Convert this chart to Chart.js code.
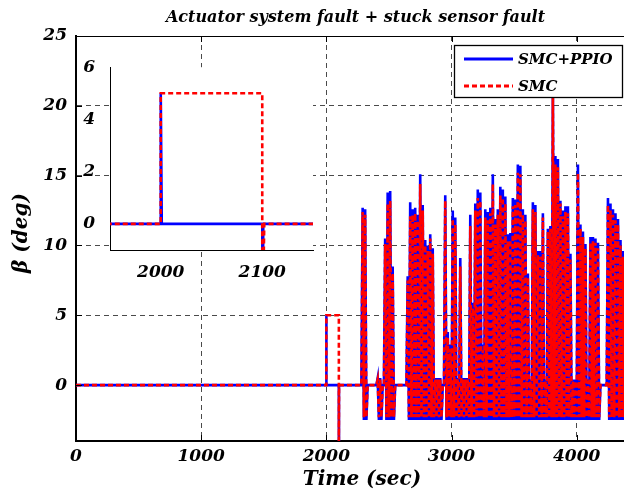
<!DOCTYPE html>
<html>
<head>
<meta charset="utf-8">
<script src="https://cdn.jsdelivr.net/npm/chart.js@4.4.1/dist/chart.umd.min.js"></script>
<style>
  html, body { margin: 0; padding: 0; background: #fff; overflow: hidden; }
  #wrap { position: relative; width: 624px; height: 495px; overflow: hidden; background: #fff; }
  #mainChart { position: absolute; left: 0; top: 0; }
  #insetChart { position: absolute; left: 60px; top: 50px; }
</style>
</head>
<body>
<div id="wrap">
  <canvas id="mainChart" width="645" height="495"></canvas>
  <canvas id="insetChart" width="270" height="230"></canvas>
</div>
<script>
// fault pulse: actuator fault at t = 2000 s, stuck sensor at t = 2100 s
const faultTimeSMC = [0, 2000, 2000, 2100, 2100, 2102, 2260];
const faultSMC = [0, 0, 5, 5, -4.5, 0, 0];
const faultTimePPIO = [0, 2000, 2000, 2001, 2100, 2100.5, 2101, 2260];
const faultPPIO = [0, 0, 5, 0, 0, -4.5, 0, 0];

// oscillating part, one sample every 10 s starting at 2270 s
const burstStart = 2270;
const burstStep = 10;
const smcBurst = [
  0, 0, 12.4, -2.3, 12.2, -2.3, 0, 0, 0, 0, 0, 0, 0, 0, 0.4, -2.3, 0.4, -2.3, 0, 0,
  10.1, -2.3, 13.0, -2.3, 13.2, -2.3, 8.0, -2.3, 0, 0, 0, 0, 0, 0, 0, 0, 0, 0, 7.5, -2.3,
  12.1, -2.3, 12.2, -2.3, 12.3, -2.3, 11.8, -2.3, 14.4, -2.3, 12.5, -2.3, 10.0, -2.3, 9.6, -2.3, 10.5, -2.3, 9.4, -2.3,
  0.4, -2.3, 0.4, -2.3, 0.4, -2.3, 0, 0, 13.2, -2.3, 3.4, -2.3, 2.6, -2.3, 11.9, -2.3, 11.5, -2.3, 0.4, -2.3,
  8.5, -2.3, 0.4, -2.3, 0.4, -2.3, 0.4, -2.3, 11.4, -2.3, 5.5, -2.3, 12.5, -2.3, 13.4, -2.3, 13.2, -2.3, 2.5, -2.3,
  12.0, -2.3, 11.8, -2.3, 12.3, -2.3, 14.4, -2.3, 11.5, -2.3, 12.2, -2.3, 13.6, -2.3, 13.4, -2.3, 13.0, -2.3, 10.3, -2.3,
  10.4, -2.3, 12.8, -2.3, 12.9, -2.3, 15.2, -2.3, 15.1, -2.3, 12.2, -2.3, 11.8, -2.3, 7.7, -2.3, 0.3, -2.3, 12.6, -2.3,
  12.4, -2.3, 9.3, -2.3, 9.2, -2.3, 12.0, -2.3, 0.3, -2.3, 11.0, -2.3, 11.2, -2.3, 20.6, -2.3, 15.8, -2.3, 15.6, -2.3,
  13.0, -2.3, 12.1, -2.3, 12.4, -2.3, 12.3, -2.3, 9.0, -2.3, 0.3, -2.3, 0.3, -2.3, 15.2, -2.3, 11.2, -2.3, 10.6, -2.3,
  9.8, -2.3, 0.3, -2.3, 10.2, -2.3, 10.3, -2.3, 10.2, -2.3, 9.8, -2.3, 0, 0, 0, 0, 0, 0, 12.9, -2.3,
  12.5, -2.3, 12.2, -2.3, 11.8, -2.3, 11.5, -2.3, 10.0, -2.3, 9.2, -2.3, 8.5, -2.3, 10.0, -2.3, 9.0, -2.3
];
const ppioBurst = [
  0, 0, 12.7, -2.5, 12.6, -2.5, 0, 0, 0, 0, 0, 0, 0, 0, 0.5, -2.5, 0.5, -2.5, 0, 0,
  10.5, -2.5, 13.8, -2.5, 13.9, -2.5, 8.5, -2.5, 0, 0, 0, 0, 0, 0, 0, 0, 0, 0, 7.8, -2.5,
  13.1, -2.5, 12.6, -2.5, 12.7, -2.5, 12.2, -2.5, 15.1, -2.5, 12.9, -2.5, 10.4, -2.5, 10.0, -2.5, 10.8, -2.5, 9.8, -2.5,
  0.5, -2.5, 0.5, -2.5, 0.5, -2.5, 0, 0, 13.6, -2.5, 3.8, -2.5, 2.9, -2.5, 12.5, -2.5, 12.0, -2.5, 0.5, -2.5,
  9.1, -2.5, 0.5, -2.5, 0.5, -2.5, 0.5, -2.5, 12.2, -2.5, 5.9, -2.5, 13.0, -2.5, 14.0, -2.5, 13.8, -2.5, 2.9, -2.5,
  12.6, -2.5, 12.4, -2.5, 12.7, -2.5, 15.1, -2.5, 11.9, -2.5, 12.6, -2.5, 14.2, -2.5, 14.0, -2.5, 13.5, -2.5, 10.8, -2.5,
  10.9, -2.5, 13.4, -2.5, 13.3, -2.5, 15.8, -2.5, 15.7, -2.5, 12.6, -2.5, 12.2, -2.5, 8.0, -2.5, 0.4, -2.5, 13.1, -2.5,
  12.9, -2.5, 9.6, -2.5, 9.6, -2.5, 12.3, -2.5, 0.4, -2.5, 11.2, -2.5, 11.4, -2.5, 20.8, -2.5, 16.4, -2.5, 16.2, -2.5,
  13.2, -2.5, 12.5, -2.5, 12.8, -2.5, 12.8, -2.5, 9.4, -2.5, 0.4, -2.5, 0.4, -2.5, 15.8, -2.5, 11.5, -2.5, 11.0, -2.5,
  10.1, -2.5, 0.4, -2.5, 10.6, -2.5, 10.6, -2.5, 10.5, -2.5, 10.2, -2.5, 0, 0, 0, 0, 0, 0, 13.4, -2.5,
  13.0, -2.5, 12.6, -2.5, 12.3, -2.5, 11.9, -2.5, 10.4, -2.5, 9.6, -2.5, 9.0, -2.5, 10.4, -2.5, 9.4, -2.5
];

const xTickValues = [0, 1000, 2000, 3000, 4000];
const yTickValues = [0, 5, 10, 15, 20, 25];
const insetXTicks = [2000, 2100];
const insetYTicks = [0, 2, 4, 6];

const seriesNames = ['SMC+PPIO', 'SMC'];
const titleText = 'Actuator system fault + stuck sensor fault';
const xTitle = 'Time (sec)';
const yTitle = '\u03B2 (deg)';

const FONT = '"DejaVu Serif", "Liberation Serif", serif';

function toPoints(times, values) {
  return times.map((t, i) => ({ x: t, y: values[i] }));
}
function burstPoints(values) {
  return values.map((v, i) => ({ x: burstStart + i * burstStep, y: v }));
}

const ppioData = toPoints(faultTimePPIO, faultPPIO).concat(burstPoints(ppioBurst));
const smcData = toPoints(faultTimeSMC, faultSMC).concat(burstPoints(smcBurst));

function makeDatasets(dash, width) {
  return [
    { label: seriesNames[0], data: ppioData, borderColor: '#0000ff', borderWidth: width,
      pointRadius: 0, tension: 0, fill: false, order: 2 },
    { label: seriesNames[1], data: smcData, borderColor: '#ff0000', borderWidth: width,
      borderDash: dash, pointRadius: 0, tension: 0, fill: false, order: 1 }
  ];
}

function fixedTicks(values) {
  return function (scale) {
    scale.ticks = values.map(v => ({ value: v }));
  };
}
const plainLabel = v => String(v);

const tickFont = { family: FONT, size: 17, style: 'italic', weight: 'bold' };

// white page, frame, inward ticks, titles and legend
const mainDecor = {
  id: 'mainDecor',
  beforeDraw(chart) {
    const ctx = chart.ctx;
    ctx.save();
    ctx.fillStyle = '#fff';
    ctx.fillRect(0, 0, chart.width, chart.height);
    ctx.restore();
  },
  afterDraw(chart) {
    const ctx = chart.ctx;
    const a = chart.chartArea;
    const xs = chart.scales.x, ys = chart.scales.y;
    ctx.save();
    // top edge of the box
    ctx.strokeStyle = '#000';
    ctx.lineWidth = 1.2;
    ctx.beginPath();
    ctx.moveTo(a.left, a.top + 0.5);
    ctx.lineTo(a.right, a.top + 0.5);
    ctx.stroke();
    // ticks pointing inwards
    ctx.lineWidth = 1;
    ctx.beginPath();
    yTickValues.forEach(v => {
      const y = Math.round(ys.getPixelForValue(v)) + 0.5;
      ctx.moveTo(a.left, y); ctx.lineTo(a.left + 6, y);
    });
    xTickValues.forEach(v => {
      const x = Math.round(xs.getPixelForValue(v)) + 0.5;
      ctx.moveTo(x, a.bottom); ctx.lineTo(x, a.bottom - 6);
      ctx.moveTo(x, a.top); ctx.lineTo(x, a.top + 6);
    });
    ctx.stroke();

    ctx.fillStyle = '#000';
    ctx.textBaseline = 'middle';
    ctx.textAlign = 'center';
    ctx.font = 'italic bold 16px ' + FONT;
    ctx.fillText(titleText, (a.left + a.right) / 2 + 1, 18);
    ctx.font = 'italic bold 20px ' + FONT;
    ctx.fillText(xTitle, 362, 480);
    ctx.save();
    ctx.translate(22, 233);
    ctx.rotate(-Math.PI / 2);
    ctx.fillText(yTitle, 0, 0);
    ctx.restore();

    // legend
    const box = { x: 454.5, y: 45.5, w: 168, h: 52 };
    ctx.fillStyle = '#fff';
    ctx.fillRect(box.x, box.y, box.w, box.h);
    ctx.strokeStyle = '#000';
    ctx.lineWidth = 1.3;
    ctx.strokeRect(box.x, box.y, box.w, box.h);
    const rows = [59, 86];
    chart.data.datasets.forEach((ds, i) => {
      ctx.strokeStyle = ds.borderColor;
      ctx.lineWidth = 3;
      ctx.setLineDash(ds.borderDash || []);
      ctx.beginPath();
      ctx.moveTo(464, rows[i]);
      ctx.lineTo(513, rows[i]);
      ctx.stroke();
      ctx.setLineDash([]);
      ctx.fillStyle = '#000';
      ctx.textAlign = 'left';
      ctx.font = 'italic bold 15px ' + FONT;
      ctx.fillText(ds.label, 518, rows[i] + 1);
    });
    ctx.restore();
  }
};

new Chart(document.getElementById('mainChart'), {
  type: 'line',
  data: { datasets: makeDatasets([5, 3], 2.6) },
  options: {
    responsive: false,
    animation: false,
    events: [],
    layout: { padding: { top: 36, right: 12, bottom: 0, left: 0 } },
    plugins: { legend: { display: false }, title: { display: false }, tooltip: { enabled: false } },
    scales: {
      x: {
        type: 'linear', min: 0, max: 4450,
        afterBuildTicks: fixedTicks(xTickValues),
        afterFit(s) { s.height = 54; },
        ticks: { font: tickFont, color: '#000', padding: 5, maxRotation: 0, autoSkip: false, callback: plainLabel },
        grid: { color: '#4a4a4a', lineWidth: 1, drawTicks: false },
        border: { display: true, color: '#000', width: 2, dash: [5, 4] }
      },
      y: {
        type: 'linear', min: -4, max: 25,
        afterBuildTicks: fixedTicks(yTickValues),
        afterFit(s) { s.width = 76; },
        ticks: { font: tickFont, color: '#000', padding: 9, callback: plainLabel },
        grid: { color: '#4a4a4a', lineWidth: 1, drawTicks: false },
        border: { display: true, color: '#000', width: 2, dash: [5, 4] }
      }
    }
  },
  plugins: [mainDecor]
});

// zoomed view around the fault instants
const insetBackground = {
  id: 'insetBackground',
  beforeDraw(chart) {
    const a = chart.chartArea;
    const ctx = chart.ctx;
    ctx.save();
    ctx.fillStyle = '#fff';
    ctx.fillRect(a.left, a.top, a.right - a.left, a.bottom - a.top);
    ctx.restore();
  }
};

new Chart(document.getElementById('insetChart'), {
  type: 'line',
  data: { datasets: makeDatasets([5, 3], 2.6) },
  options: {
    responsive: false,
    animation: false,
    events: [],
    layout: { padding: { top: 14, right: 17, bottom: 0, left: 0 } },
    plugins: { legend: { display: false }, title: { display: false }, tooltip: { enabled: false } },
    scales: {
      x: {
        type: 'linear', min: 1950, max: 2150,
        afterBuildTicks: fixedTicks(insetXTicks),
        afterFit(s) { s.height = 30; },
        ticks: { font: tickFont, color: '#000', padding: 4, maxRotation: 0, autoSkip: false, callback: plainLabel },
        grid: { display: false },
        border: { display: true, color: '#000', width: 1 }
      },
      y: {
        type: 'linear', min: -1, max: 6,
        afterBuildTicks: fixedTicks(insetYTicks),
        afterFit(s) { s.width = 50; },
        ticks: { font: tickFont, color: '#000', padding: 7, callback: plainLabel },
        grid: { display: false },
        border: { display: true, color: '#000', width: 1 }
      }
    }
  },
  plugins: [insetBackground]
});
</script>
</body>
</html>
